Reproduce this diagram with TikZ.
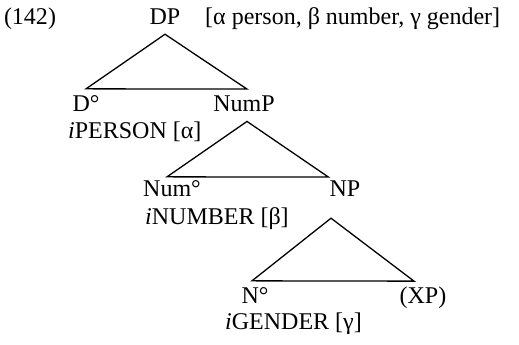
\documentclass[tikz,border=0pt]{standalone}
\usepackage{fontspec}
\setmainfont{Liberation Serif}
\tikzset{
	cat/.style={anchor=base, inner sep=0pt, font=\fontsize{24}{28}\selectfont},
	feat/.style={cat, anchor=base west},
	tri/.style={draw=black, line width=1.3pt, line join=miter}
}

\begin{document}
\begin{tikzpicture}[x=1pt, y=-1pt]
		\useasboundingbox (0, 0) rectangle (519, 345);

		\node[cat] (ex) at (30, 25) {(142)};
		\node[cat] (DP) at (165, 25) {DP};
		\node[feat] (phi) at (205, 25) {[α person, β number, γ gender]};

		\node[cat] (D) at (86, 111) {D°};
		\node[cat] (NumP) at (244, 111) {NumP};
		\node[feat] (person) at (68, 138) {\textit{i}PERSON [α]};

		\node[cat] (Num) at (172, 196) {Num°};
		\node[cat] (NP) at (345, 196) {NP};
		\node[feat] (number) at (145, 224) {\textit{i}NUMBER [β]};

		\node[cat] (N) at (255, 303) {N°};
		\node[cat] (XP) at (423, 303) {(XP)};
		\node[feat] (gender) at (225, 329) {\textit{i}GENDER [γ]};

		% triangles
		\draw[tri] ([yshift=-9pt]DP.south) -- ([yshift=6pt]D.north) -- ([xshift=3pt, yshift=6pt]NumP.north) -- cycle;
		\draw[tri] ([xshift=3pt, yshift=-10pt]NumP.south) -- ([xshift=-5pt, yshift=3pt]Num.north) -- ([xshift=-1pt, yshift=3pt]NP.north west) -- cycle;
		\draw[tri] ([xshift=-14pt, yshift=-22pt]NP.south) -- ([xshift=-3pt, yshift=6pt]N.north) -- ([xshift=-9pt, yshift=5pt]XP.north) -- cycle;
\end{tikzpicture}
\end{document}
